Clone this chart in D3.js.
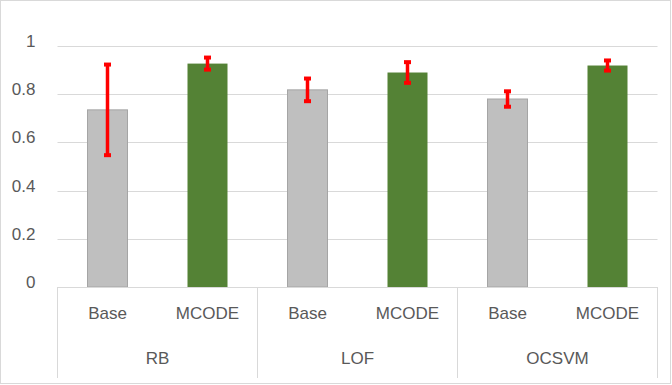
<!DOCTYPE html>
<html>
<head>
<meta charset="utf-8">
<script src="https://cdn.jsdelivr.net/npm/d3@7"></script>
<style>
  body { margin: 0; background: #fff; }
  svg { display: block; font-family: "Liberation Sans", Arial, sans-serif; }
  .axis path, .axis line { display: none; }
  .axis text { fill: #595959; font-size: 17px; }
</style>
</head>
<body>
<div id="chart-area"></div>
<script>
// data
var groups = ["RB", "LOF", "OCSVM"];
var series = ["Base", "MCODE"];
var baseVals = [0.735, 0.818, 0.780];
var baseErr = [0.188, 0.047, 0.032];
var mcodeVals = [0.927, 0.890, 0.919];
var mcodeErr = [0.025, 0.043, 0.021];
var yTicks = [0, 0.2, 0.4, 0.6, 0.8, 1];

var W = 672, H = 385;
var margin = { left: 57.5, right: 14.5, top: 46, bottom: 98 };
var width = W - margin.left - margin.right,
    height = H - margin.top - margin.bottom;

var colors = { Base: "#bfbfbf", MCODE: "#548235" };
var strokes = { Base: "#a5a5a5", MCODE: "none" };

var data = [];
groups.forEach(function (g, i) {
  data.push({ group: g, s: "Base", v: baseVals[i], e: baseErr[i] });
  data.push({ group: g, s: "MCODE", v: mcodeVals[i], e: mcodeErr[i] });
});

var svg = d3.select("#chart-area").append("svg")
  .attr("width", W).attr("height", H);

// outer chart border
svg.append("rect")
  .attr("x", 0.5).attr("y", 0.5)
  .attr("width", W - 2).attr("height", H - 2)
  .attr("fill", "#fff").attr("stroke", "#d9d9d9");

var g = svg.append("g")
  .attr("transform", "translate(" + margin.left + "," + margin.top + ")");

var x0 = d3.scaleBand().domain(groups).range([0, width]);
var x1 = d3.scaleBand().domain(series).range([0, x0.bandwidth()])
  .paddingInner(0.6).paddingOuter(0.3);
var y = d3.scaleLinear().domain([0, 1]).range([height, 0]);

// gridlines
g.selectAll(".grid").data(yTicks.slice(1)).enter().append("line")
  .attr("class", "grid")
  .attr("x1", 0).attr("x2", width)
  .attr("y1", function (d) { return Math.round(y(d)) + 0.5; })
  .attr("y2", function (d) { return Math.round(y(d)) + 0.5; })
  .attr("stroke", "#d9d9d9").attr("stroke-width", 1);

// y axis labels
g.append("g").attr("class", "axis")
  .attr("transform", "translate(-22,-5)")
  .call(d3.axisLeft(y).tickValues(yTicks).tickSize(0).tickPadding(0)
    .tickFormat(function (d) { return d3.format("")(d); }));

// bars
g.selectAll(".bar").data(data).enter().append("rect")
  .attr("class", "bar")
  .attr("x", function (d) { return x0(d.group) + x1(d.s); })
  .attr("y", function (d) { return y(d.v); })
  .attr("width", x1.bandwidth())
  .attr("height", function (d) { return height - y(d.v); })
  .attr("fill", function (d) { return colors[d.s]; })
  .attr("stroke", function (d) { return strokes[d.s]; })
  .attr("stroke-width", 1);

// error bars
var eb = g.selectAll(".err").data(data).enter().append("g").attr("class", "err");
eb.append("line")
  .attr("x1", function (d) { return x0(d.group) + x1(d.s) + x1.bandwidth() / 2; })
  .attr("x2", function (d) { return x0(d.group) + x1(d.s) + x1.bandwidth() / 2; })
  .attr("y1", function (d) { return y(d.v + d.e); })
  .attr("y2", function (d) { return y(d.v - d.e); })
  .attr("stroke", "#ff0000").attr("stroke-width", 3.5);
[1, -1].forEach(function (sign) {
  eb.append("line")
    .attr("x1", function (d) { return x0(d.group) + x1(d.s) + x1.bandwidth() / 2 - 3.5; })
    .attr("x2", function (d) { return x0(d.group) + x1(d.s) + x1.bandwidth() / 2 + 3.5; })
    .attr("y1", function (d) { return y(d.v + sign * d.e); })
    .attr("y2", function (d) { return y(d.v + sign * d.e); })
    .attr("stroke", "#ff0000").attr("stroke-width", 4);
});

// category axis: top line and group separators
g.append("line")
  .attr("x1", 0).attr("x2", width)
  .attr("y1", height + 0.5).attr("y2", height + 0.5)
  .attr("stroke", "#d9d9d9");
var seps = groups.map(function (d) { return x0(d); }).concat([width]);
g.selectAll(".sep").data(seps).enter().append("line")
  .attr("class", "sep")
  .attr("x1", function (d) { return d; }).attr("x2", function (d) { return d; })
  .attr("y1", height).attr("y2", height + 91)
  .attr("stroke", "#d9d9d9");

// series labels
g.selectAll(".slabel").data(data).enter().append("text")
  .attr("class", "slabel")
  .attr("x", function (d) { return x0(d.group) + x1(d.s) + x1.bandwidth() / 2; })
  .attr("y", height + 26)
  .attr("dy", "0.35em")
  .attr("text-anchor", "middle")
  .attr("font-size", "17px")
  .attr("fill", "#595959")
  .text(function (d) { return d.s; });

// group labels
g.selectAll(".glabel").data(groups).enter().append("text")
  .attr("class", "glabel")
  .attr("x", function (d) { return x0(d) + x0.bandwidth() / 2; })
  .attr("y", height + 71)
  .attr("dy", "0.35em")
  .attr("text-anchor", "middle")
  .attr("font-size", "17px")
  .attr("fill", "#595959")
  .text(function (d) { return d; });
</script>
</body>
</html>
